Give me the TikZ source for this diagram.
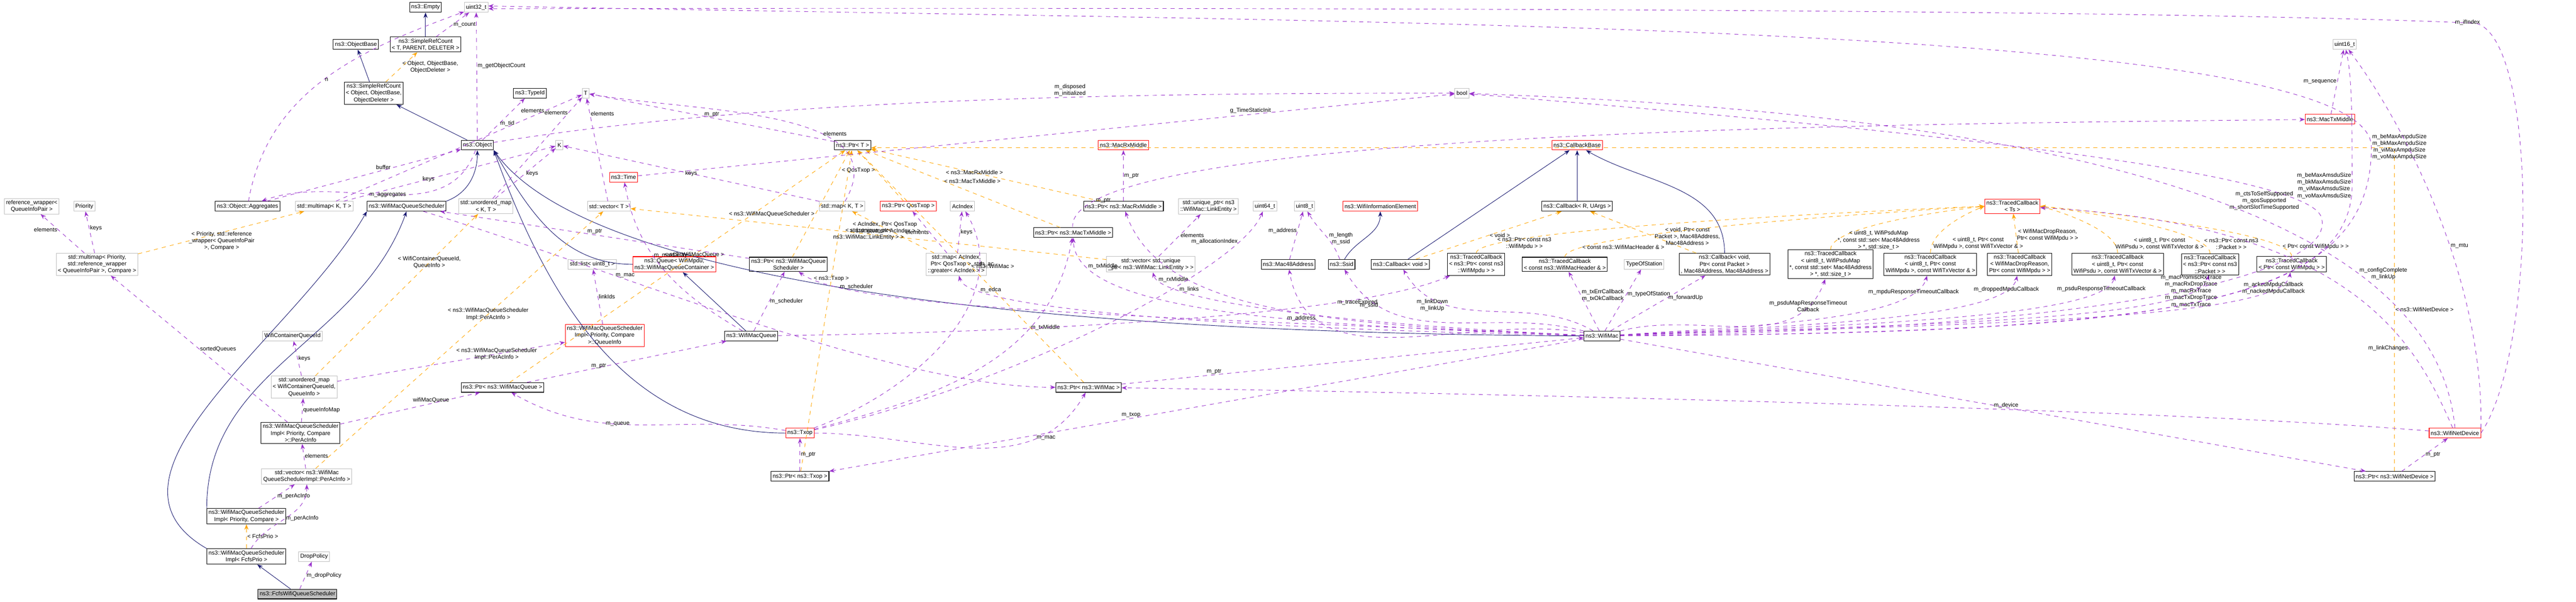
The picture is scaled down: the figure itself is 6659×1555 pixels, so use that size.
\documentclass[tikz,border=0pt]{standalone}
\usepackage{fontspec}
\setmainfont{Liberation Sans}
\usetikzlibrary{arrows.meta}
\definecolor{inhcol}{RGB}{25,25,112}
\definecolor{usecol}{RGB}{153,50,204}
\definecolor{tplcol}{RGB}{255,165,0}
\tikzset{
  box/.style={rectangle,draw=black,fill=white,inner sep=1.2pt,minimum height=0.25cm,align=center,font=\fontsize{4.2}{5}\selectfont},
  cls/.style={box,draw=black,line width=0.4pt},
  ext/.style={box,draw=black!25},
  redbox/.style={box,draw=red},
  sel/.style={box,fill=black!25},
  inh/.style={draw=inhcol,-{Stealth[length=4pt,width=3pt]},line width=0.35pt},
  use/.style={draw=usecol,dashed,-{Stealth[length=4pt,width=3pt]},line width=0.35pt},
  tpl/.style={draw=tplcol,dashed,-{Stealth[length=4pt,width=3pt]},line width=0.35pt},
  lbl/.style={font=\fontsize{4.2}{5}\selectfont,align=center,inner sep=0.5pt}
}
\begin{document}
\begin{tikzpicture}[x=0.01cm,y=-0.01cm]
\useasboundingbox (0,0) rectangle (6659,1555);
% top rows
\node[cls] (empty) at (1100,19) {ns3::Empty};
\node[ext] (uint32) at (1231,19) {uint32\_t};
\node[cls] (objbase) at (920,115) {ns3::ObjectBase};
\node[cls] (srcT) at (1100,115) {ns3::SimpleRefCount\\\textless{} T, PARENT, DELETER \textgreater};
\node[ext] (uint16) at (6061,115) {uint16\_t};
\node[cls] (srcO) at (966,241) {ns3::SimpleRefCount\\\textless{} Object, ObjectBase,\\ObjectDeleter \textgreater};
\node[cls] (typeid) at (1370,241) {ns3::TypeId};
\node[ext] (T) at (1514,241) {T};
\node[ext] (bool) at (3779,241) {bool};
\node[redbox] (mactx) at (6023,308) {ns3::MacTxMiddle};
% object row
\node[cls] (object) at (1234,375) {ns3::Object};
\node[ext] (K) at (1446,375) {K};
\node[cls] (ptrT) at (2204,375) {ns3::Ptr\textless{} T \textgreater};
\node[redbox] (macrx) at (2904,375) {ns3::MacRxMiddle};
\node[redbox] (cbbase) at (4077,375) {ns3::CallbackBase};
\node[redbox] (time) at (1612,458) {ns3::Time};
% row 533
\node[ext] (refwrap) at (82,533) {reference\_wrapper\textless\\QueueInfoPair \textgreater};
\node[ext] (priority) at (218,533) {Priority};
\node[cls] (aggr) at (640,533) {ns3::Object::Aggregates};
\node[ext] (mmapKT) at (838,533) {std::multimap\textless{} K, T \textgreater};
\node[cls] (wmqs) at (1051,533) {ns3::WifiMacQueueScheduler};
\node[ext] (umapKT) at (1256,533) {std::unordered\_map\\\textless{} K, T \textgreater};
\node[ext] (vecT) at (1574,533) {std::vector\textless{} T \textgreater};
\node[ext] (mapKT) at (2177,533) {std::map\textless{} K, T \textgreater};
\node[redbox] (ptrqos) at (2348,533) {ns3::Ptr\textless{} QosTxop \textgreater};
\node[ext] (acindex) at (2488,533) {AcIndex};
\node[cls] (ptrrx) at (2904,533) {ns3::Ptr\textless{} ns3::MacRxMiddle \textgreater};
\node[ext] (uniq) at (3124,533) {std::unique\_ptr\textless{} ns3\\::WifiMac::LinkEntity \textgreater};
\node[ext] (uint64) at (3270,533) {uint64\_t};
\node[ext] (uint8) at (3372,533) {uint8\_t};
\node[redbox] (wie) at (3568,533) {ns3::WifiInformationElement};
\node[cls] (cbR) at (4077,533) {ns3::Callback\textless{} R, UArgs \textgreater};
\node[redbox] (tcTs) at (5202,533) {ns3::TracedCallback\\\textless{} Ts \textgreater};
\node[cls] (ptrtx) at (2774,601) {ns3::Ptr\textless{} ns3::MacTxMiddle \textgreater};
% row 683
\node[ext] (mmapP) at (251,683) {std::multimap\textless{} Priority,\\std::reference\_wrapper\\\textless{} QueueInfoPair \textgreater, Compare \textgreater};
\node[ext] (listu8) at (1531,683) {std::list\textless{} uint8\_t \textgreater};
\node[redbox] (queue) at (1743,683) {ns3::Queue\textless{} WifiMpdu,\\ns3::WifiMacQueueContainer \textgreater};
\node[cls] (ptrwmqs) at (2038,683) {ns3::Ptr\textless{} ns3::WifiMacQueue\\Scheduler \textgreater};
\node[ext] (mapac) at (2472,683) {std::map\textless{} AcIndex,\\Ptr\textless{} QosTxop \textgreater, std\\::greater\textless{} AcIndex \textgreater{} \textgreater};
\node[ext] (veclink) at (2975,683) {std::vector\textless{} std::unique\\\_ptr\textless{} ns3::WifiMac::LinkEntity \textgreater{} \textgreater};
\node[cls] (mac48) at (3330,683) {ns3::Mac48Address};
\node[cls] (ssid) at (3468,683) {ns3::Ssid};
\node[cls] (cbvoid) at (3620,683) {ns3::Callback\textless{} void \textgreater};
\node[cls] (tcmpdu) at (3816,683) {ns3::TracedCallback\\\textless{} ns3::Ptr\textless{} const ns3\\::WifiMpdu \textgreater{} \textgreater};
\node[cls] (tchdr) at (4045,683) {ns3::TracedCallback\\\textless{} const ns3::WifiMacHeader \& \textgreater};
\node[ext] (tos) at (4250,683) {TypeOfStation};
\node[cls] (cbpkt) at (4458,683) {ns3::Callback\textless{} void,\\Ptr\textless{} const Packet \textgreater\\, Mac48Address, Mac48Address \textgreater};
\node[cls] (tcpsdumap) at (4732,683) {ns3::TracedCallback\\\textless{} uint8\_t, WifiPsduMap\\*, const std::set\textless{} Mac48Address\\\textgreater{} *, std::size\_t \textgreater};
\node[cls] (tcmpduvec) at (4990,683) {ns3::TracedCallback\\\textless{} uint8\_t, Ptr\textless{} const\\WifiMpdu \textgreater, const WifiTxVector \& \textgreater};
\node[cls] (tcdrop) at (5221,683) {ns3::TracedCallback\\\textless{} WifiMacDropReason,\\Ptr\textless{} const WifiMpdu \textgreater{} \textgreater};
\node[cls] (tcpsdu) at (5474,683) {ns3::TracedCallback\\\textless{} uint8\_t, Ptr\textless{} const\\WifiPsdu \textgreater, const WifiTxVector \& \textgreater};
\node[cls] (tcpkt) at (5713,683) {ns3::TracedCallback\\\textless{} ns3::Ptr\textless{} const ns3\\::Packet \textgreater{} \textgreater};
\node[cls] (tcmpdu2) at (5924,683) {ns3::TracedCallback\\\textless{} Ptr\textless{} const WifiMpdu \textgreater{} \textgreater};
% lower rows
\node[ext] (wcqid) at (756,868) {WifiContainerQueueId};
\node[redbox] (qinfo) at (1563,867) {ns3::WifiMacQueueScheduler\\Impl\textless{} Priority, Compare\\\textgreater::QueueInfo};
\node[cls] (wmq) at (1942,868) {ns3::WifiMacQueue};
\node[cls] (wifimac) at (4141,868) {ns3::WifiMac};
\node[ext] (umapWQ) at (786,1000) {std::unordered\_map\\\textless{} WifiContainerQueueId,\\QueueInfo \textgreater};
\node[cls] (ptrwmq) at (1299,1001) {ns3::Ptr\textless{} ns3::WifiMacQueue \textgreater};
\node[cls] (ptrmac) at (2814,1001) {ns3::Ptr\textless{} ns3::WifiMac \textgreater};
\node[cls] (peracinfo) at (777,1119) {ns3::WifiMacQueueScheduler\\Impl\textless{} Priority, Compare\\\textgreater::PerAcInfo};
\node[redbox] (txop) at (2068,1119) {ns3::Txop};
\node[redbox] (wnd) at (6346,1119) {ns3::WifiNetDevice};
\node[ext] (vecperac) at (793,1231) {std::vector\textless{} ns3::WifiMac\\QueueSchedulerImpl::PerAcInfo \textgreater};
\node[cls] (ptrtxop) at (2068,1231) {ns3::Ptr\textless{} ns3::Txop \textgreater};
\node[cls] (ptrwnd) at (6190,1231) {ns3::Ptr\textless{} ns3::WifiNetDevice \textgreater};
\node[cls] (implPC) at (637,1334) {ns3::WifiMacQueueScheduler\\Impl\textless{} Priority, Compare \textgreater};
\node[cls] (implF) at (637,1438) {ns3::WifiMacQueueScheduler\\Impl\textless{} FcfsPrio \textgreater};
\node[ext] (drop) at (812,1438) {DropPolicy};
\node[sel] (fcfs) at (769,1535) {ns3::FcfsWifiQueueScheduler};
% inheritance
\draw[inh] (srcT) -- (empty);
\draw[inh] (srcO) -- (objbase);
\draw[inh] (object) -- (srcO);
\draw[inh] (wmqs.north east) to[out=20,in=-90] (object);
\draw[inh] (queue.west) to[out=180,in=-60] (object.south east);
\draw[inh] (txop.west) to[out=180,in=-70] (object.south east);
\draw[inh] (wifimac.west) .. controls (2500,860) and (1500,700) .. (object.south east);
\draw[inh] (implPC.north west) to[out=90,in=-110] (wmqs.south);
\draw[inh] (implF.north west) to[out=150,in=-120] (wmqs.south west);
\draw[inh] (fcfs) -- (implF);
\draw[inh] (wmq) -- (queue);
\draw[inh] (ssid) to[out=60,in=-90] (wie);
\draw[inh] (cbvoid) -- (cbbase);
\draw[inh] (cbR) -- (cbbase);
\draw[inh] (cbpkt) to[out=90,in=-30] (cbbase);
% template instances
\draw[tpl] (srcO) -- node[lbl,right] {\textless{} Object, ObjectBase,\\ObjectDeleter \textgreater} (srcT);
\draw[tpl] (mmapP) -- node[lbl,pos=0.3,right] {\textless{} Priority, std::reference\\\_wrapper\textless{} QueueInfoPair\\\textgreater, Compare \textgreater} (mmapKT);
\draw[tpl] (umapWQ) -- node[lbl,pos=0.7] {\textless{} WifiContainerQueueId,\\QueueInfo \textgreater} (umapKT);
\draw[tpl] (vecperac) -- node[lbl,pos=0.6] {\textless{} ns3::WifiMacQueueScheduler\\Impl::PerAcInfo \textgreater} (vecT);
\draw[tpl] (implF) -- node[lbl,right] {\textless{} FcfsPrio \textgreater} (implPC);
\draw[tpl] (ptrwmq) -- node[lbl,pos=0.55] {\textless{} ns3::WifiMacQueue \textgreater} (ptrT);
\draw[tpl] (ptrtxop) -- node[lbl,pos=0.6] {\textless{} ns3::Txop \textgreater} (ptrT);
\draw[tpl] (ptrwmqs) -- node[lbl,pos=0.4,left] {\textless{} ns3::WifiMacQueueScheduler \textgreater} (ptrT);
\draw[tpl] (ptrqos) -- node[lbl,pos=0.6,left] {\textless{} QosTxop \textgreater} (ptrT);
\draw[tpl] (ptrtx) -- node[lbl,pos=0.6,right] {\textless{} ns3::MacTxMiddle \textgreater} (ptrT);
\draw[tpl] (ptrrx) -- node[lbl,pos=0.55] {\textless{} ns3::MacRxMiddle \textgreater} (ptrT);
\draw[tpl] (ptrmac) -- node[lbl,pos=0.5,right] {\textless{} ns3::WifiMac \textgreater} (ptrT);
\draw[tpl] (ptrwnd) |- node[lbl,pos=0.25,right] {\textless{} ns3::WifiNetDevice \textgreater} ([yshift=-2pt]ptrT.east);
\draw[tpl] (mapac) -- node[lbl,pos=0.6] {\textless{} AcIndex, Ptr\textless{} QosTxop\\\textgreater, std::greater\textless{} AcIndex \textgreater{} \textgreater} (mapKT);
\draw[tpl] (veclink) -- node[lbl,pos=0.5] {\textless{} std::unique\_ptr\textless\\ns3::WifiMac::LinkEntity \textgreater{} \textgreater} (vecT);
\draw[tpl] (cbvoid) -- node[lbl,pos=0.5,right] {\textless{} void \textgreater} (cbR);
\draw[tpl] (cbpkt) -- node[lbl,pos=0.4,right] {\textless{} void, Ptr\textless{} const\\Packet \textgreater, Mac48Address,\\Mac48Address \textgreater} (cbR);
\foreach \src/\side/\txt in {tcmpdu/west/{\textless{} ns3::Ptr\textless{} const ns3\\::WifiMpdu \textgreater{} \textgreater},
  tchdr/west/{\textless{} const ns3::WifiMacHeader \& \textgreater},
  tcpsdumap/west/{\textless{} uint8\_t, WifiPsduMap\\*, const std::set\textless{} Mac48Address\\\textgreater{} *, std::size\_t \textgreater},
  tcmpduvec/west/{\textless{} uint8\_t, Ptr\textless{} const\\WifiMpdu \textgreater, const WifiTxVector \& \textgreater},
  tcpsdu/east/{\textless{} uint8\_t, Ptr\textless{} const\\WifiPsdu \textgreater, const WifiTxVector \& \textgreater},
  tcpkt/east/{\textless{} ns3::Ptr\textless{} const ns3\\::Packet \textgreater{} \textgreater},
  tcmpdu2/east/{\textless{} Ptr\textless{} const WifiMpdu \textgreater{} \textgreater}}
  \draw[tpl] (\src.north) .. controls +(0,-70) and +(0,0) .. node[lbl,pos=0.12,right] {\txt} (tcTs.\side);
\draw[tpl] (tcdrop) -- node[lbl,pos=0.45,right] {\textless{} WifiMacDropReason,\\Ptr\textless{} const WifiMpdu \textgreater{} \textgreater} (tcTs);
% members
\draw[use] (srcT) -- node[lbl,right] {m\_count} (uint32);
\draw[use] (object) -- node[lbl,pos=0.58,right] {m\_getObjectCount} (uint32);
\draw[use] (object) -- node[lbl,pos=0.4,right] {m\_tid} (typeid);
\draw[use] (aggr) to[out=80,in=200] node[lbl,pos=0.5,right] {n} (uint32);
\draw[use] (aggr) -- node[lbl,pos=0.6,above] {buffer} (object);
\draw[use] (object) to[out=-110,in=20] node[lbl,pos=0.5] {m\_aggregates} (aggr);
\draw[use] (mmapKT) -- node[lbl,pos=0.85,left] {elements} (T);
\draw[use] (mmapKT) -- node[lbl,pos=0.4] {keys} (K);
\draw[use] (umapKT) -- node[lbl,pos=0.85,left] {elements} (T);
\draw[use] (umapKT) -- node[lbl,pos=0.5,right] {keys} (K);
\draw[use] (vecT) -- node[lbl,pos=0.85,right] {elements} (T);
\draw[use] (mapKT) -- node[lbl,pos=0.5] {keys} (K);
\draw[use] (mapKT) to[out=60,in=-10] node[lbl,pos=0.35,right] {elements} (T);
\draw[use] (ptrT) -- node[lbl,pos=0.5,above] {m\_ptr} (T);
\draw[use] (object) .. controls (2000,250) and (3000,240) .. node[lbl,pos=0.6,above] {m\_disposed\\m\_initialized} (bool);
\draw[use] (time) -- node[lbl,pos=0.75,above] {g\_TimeStaticInit} (bool);
\draw[use] (mmapP) -- node[lbl,pos=0.6,left] {elements} (refwrap);
\draw[use] (mmapP) -- node[lbl,pos=0.6,right] {keys} (priority);
\draw[use] (peracinfo) -- node[lbl,pos=0.5,right] {sortedQueues} (mmapP);
\draw[use] (umapWQ) -- node[lbl,right] {keys} (wcqid);
\draw[use] (umapWQ) -- node[lbl,pos=0.7] {\textless{} ns3::WifiMacQueueScheduler\\Impl::PerAcInfo \textgreater} (qinfo);
\draw[use] (peracinfo) -- node[lbl,right] {queueInfoMap} (umapWQ);
\draw[use] (peracinfo) -- node[lbl,pos=0.65,above] {wifiMacQueue} (ptrwmq);
\draw[use] (vecperac) -- node[lbl,right] {elements} (peracinfo);
\draw[use] (implPC) -- node[lbl,right] {m\_perAcInfo} (vecperac);
\draw[use] (implF) to[out=60,in=-90] node[lbl,pos=0.5,right] {m\_perAcInfo} (vecperac);
\draw[use] (fcfs) -- node[lbl,right] {m\_dropPolicy} (drop);
\draw[use] (qinfo) -- node[lbl,right] {linkIds} (listu8);
\draw[use] (wmqs) .. controls (1600,700) and (2300,1000) .. node[lbl,pos=0.3,right] {m\_mac} (ptrmac);
\draw[use] (txop) to[out=170,in=-30] node[lbl,pos=0.6] {m\_queue} (ptrwmq);
\draw[use] (wmq) -- node[lbl,pos=0.5,right] {m\_scheduler} (ptrwmqs);
\draw[use] (wifimac) .. controls (3000,820) and (2200,800) .. node[lbl,pos=0.85,right] {m\_scheduler} (ptrwmqs);
\draw[use] (wmq) to[out=150,in=-80] node[lbl,pos=0.6,right] {m\_maxDelay} (time);
\draw[use] (ptrwmqs) -- node[lbl,pos=0.5,above] {m\_ptr} (wmqs);
\draw[use] (ptrwmq) -- node[lbl,pos=0.4,left] {m\_ptr} (wmq);
\draw[use] (mapac) -- node[lbl,left] {elements} (ptrqos);
\draw[use] (mapac) -- node[lbl,right] {keys} (acindex);
\draw[use] (wifimac) .. controls (3200,850) and (2500,800) .. node[lbl,pos=0.85,right] {m\_edca} (mapac);
\draw[use] (txop) to[out=20,in=-60] node[lbl,pos=0.8,right] {m\_ac} (acindex);
\draw[use] (ptrtx) .. controls (2750,330) and (5000,320) .. node[lbl,pos=0.1,right] {m\_ptr} (mactx);
\draw[use] (ptrrx) -- node[lbl,right] {m\_ptr} (macrx);
\draw[use] (wifimac) .. controls (3300,840) and (2780,800) .. node[lbl,pos=0.85,right] {m\_txMiddle} (ptrtx);
\draw[use] (wifimac) .. controls (3400,840) and (3000,800) .. node[lbl,pos=0.7,left] {m\_rxMiddle} (ptrrx);
\draw[use] (txop) to[out=15,in=-100] node[lbl,pos=0.7,right] {m\_txMiddle} (ptrtx);
\draw[use] (veclink) -- node[lbl,right] {elements} (uniq);
\draw[use] (wifimac) .. controls (3500,840) and (3000,780) .. node[lbl,pos=0.8,right] {m\_links} (veclink);
\draw[use] (wmq) .. controls (2600,860) and (3500,820) .. node[lbl,pos=0.75,right] {m\_traceExpired} (tcmpdu);
\draw[use] (mactx) -- node[lbl,left] {m\_sequence} (uint16);
\draw[use] (mac48) -- node[lbl,pos=0.6,left] {m\_address} (uint8);
\draw[use] (txop) .. controls (2600,1000) and (3200,700) .. node[lbl,pos=0.85,left] {m\_allocationIndex} (uint64);
\draw[use] (txop) to[out=0,in=-120] node[lbl,pos=0.75,right] {m\_mac} (ptrmac);
\draw[use] (ptrmac) -- node[lbl,pos=0.2,above] {m\_ptr} (wifimac);
\draw[use] (wifimac) -- node[lbl,pos=0.6,above] {m\_txop} (ptrtxop);
\draw[use] (ptrtxop) -- node[lbl,right] {m\_ptr} (txop);
\draw[use] (wifimac) to[out=170,in=-80] node[lbl,pos=0.8,left] {m\_address} (mac48);
\draw[use] (wifimac) to[out=165,in=-60] node[lbl,pos=0.8,left] {m\_ssid} (ssid);
\draw[use] (ssid) to[out=110,in=-60] node[lbl,pos=0.4,right] {m\_length\\m\_ssid} (uint8);
\draw[use] (wifimac) to[out=150,in=-60] node[lbl,pos=0.7,left] {m\_linkDown\\m\_linkUp} (cbvoid);
\draw[use] (wifimac) -- node[lbl,pos=0.6,right] {m\_txErrCallback\\m\_txOkCallback} (tchdr);
\draw[use] (wifimac) -- node[lbl,pos=0.6,right] {m\_typeOfStation} (tos);
\draw[use] (wifimac) -- node[lbl,pos=0.6,right] {m\_forwardUp} (cbpkt);
\draw[use] (wifimac) to[out=15,in=-110] node[lbl,pos=0.85] {m\_psduMapResponseTimeout\\Callback} (tcpsdumap);
\draw[use] (wifimac) .. controls (4600,840) and (4950,820) .. node[lbl,pos=0.85] {m\_mpduResponseTimeoutCallback} (tcmpduvec);
\draw[use] (wifimac) .. controls (4700,840) and (5190,820) .. node[lbl,pos=0.88] {m\_droppedMpduCallback} (tcdrop);
\draw[use] (wifimac) .. controls (4800,840) and (5440,820) .. node[lbl,pos=0.88] {m\_psduResponseTimeoutCallback} (tcpsdu);
\draw[use] (wifimac) .. controls (4900,840) and (5690,830) .. node[lbl,pos=0.87] {m\_macPromiscRxTrace\\m\_macRxDropTrace\\m\_macRxTrace\\m\_macTxDropTrace\\m\_macTxTrace} (tcpkt);
\draw[use] (wifimac) .. controls (5000,840) and (5900,830) .. node[lbl,pos=0.88] {m\_ackedMpduCallback\\m\_nackedMpduCallback} (tcmpdu2);
\draw[use] (wifimac) .. controls (5500,850) and (6050,700) .. (6000,560) .. controls (5950,420) and (4500,300) .. node[lbl,pos=0.1,left] {m\_ctsToSelfSupported\\m\_qosSupported\\m\_shortSlotTimeSupported} (bool);
\draw[use] (wifimac) .. controls (5500,860) and (6080,800) .. (6080,480) node[lbl,left] {m\_beMaxAmsduSize\\m\_bkMaxAmsduSize\\m\_viMaxAmsduSize\\m\_voMaxAmsduSize} .. controls (6080,300) and (6080,200) .. (uint16);
\draw[use] (wifimac) .. controls (5600,860) and (6130,800) .. (6130,380) node[lbl,right] {m\_beMaxAmpduSize\\m\_bkMaxAmpduSize\\m\_viMaxAmpduSize\\m\_voMaxAmpduSize} .. controls (6130,50) and (3500,60) .. ([yshift=1pt]uint32.east);
\draw[use] (wifimac) -- node[lbl,pos=0.5,right] {m\_device} (ptrwnd);
\draw[use] (ptrwnd) -- node[lbl,right] {m\_ptr} (wnd);
\draw[use] (wnd) .. controls (5500,1050) and (3500,1010) .. (ptrmac);
\draw[use] (wnd) .. controls (6250,900) and (6100,580) .. node[lbl,pos=0.3,left] {m\_linkChanges} (tcTs);
\draw[use] (wnd.north) .. controls (6300,600) and (5500,300) .. node[lbl,pos=0.3,right] {m\_configComplete\\m\_linkUp} (bool);
\draw[use] (wnd.north east) .. controls (6420,700) and (6200,300) .. node[lbl,pos=0.4,right] {m\_mtu} (uint16);
\draw[use] (wnd.east) .. controls (6560,900) and (6560,100) .. (6400,60) .. controls (5500,20) and (3000,20) .. node[lbl,pos=0.02,right] {m\_ifIndex} ([yshift=-1pt]uint32.east);
\end{tikzpicture}
\end{document}
